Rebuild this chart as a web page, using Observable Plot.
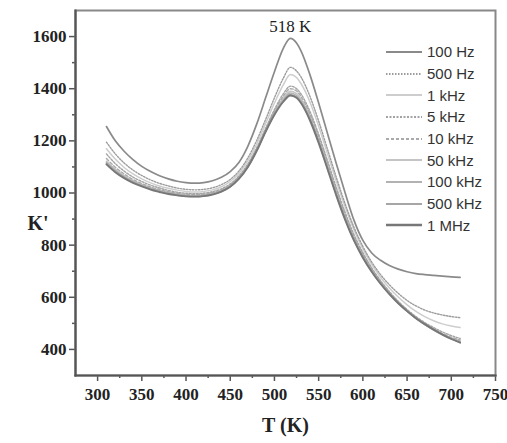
<!DOCTYPE html>
<html>
<head>
<meta charset="utf-8">
<script src="https://cdn.jsdelivr.net/npm/d3@7"></script>
<script src="https://cdn.jsdelivr.net/npm/@observablehq/plot@0.6"></script>
<style>
  html, body { margin: 0; padding: 0; background: #fff; }
  #wrap { position: relative; width: 507px; height: 443px; overflow: hidden; }
  #legend { position: absolute; left: 386px; top: 41px; font-family: "Liberation Sans", Arial, sans-serif; font-size: 15px; color: #333; }
  #legend .row { display: flex; align-items: center; height: 21.7px; }
  #legend svg { margin-right: 5px; }
</style>
</head>
<body>
<div id="wrap"></div>
<script>
// Temperatures (K)
const T = [310, 320, 330, 340, 350, 360, 370, 380, 390, 400, 410, 420, 430, 440, 450, 460, 470, 480, 490, 500, 510, 518, 525, 530, 540, 550, 560, 570, 580, 590, 600, 610, 620, 630, 640, 650, 660, 670, 680, 690, 700, 710];

// K' values per frequency
const k100Hz  = [1255, 1200, 1160, 1128, 1102, 1082, 1066, 1054, 1045, 1040, 1038, 1040, 1047, 1060, 1082, 1118, 1180, 1265, 1365, 1465, 1555, 1593, 1575, 1545, 1455, 1345, 1228, 1112, 1000, 895, 818, 770, 742, 722, 708, 698, 691, 687, 684, 681, 678, 676];
const k500Hz  = [1195, 1150, 1115, 1088, 1067, 1050, 1037, 1027, 1019, 1014, 1012, 1014, 1020, 1032, 1052, 1085, 1135, 1202, 1282, 1365, 1440, 1482, 1468, 1445, 1372, 1276, 1168, 1060, 958, 868, 795, 735, 687, 648, 615, 588, 567, 551, 540, 532, 526, 522];
const k1kHz   = [1170, 1130, 1098, 1073, 1054, 1039, 1027, 1018, 1011, 1006, 1004, 1006, 1012, 1024, 1044, 1076, 1124, 1188, 1266, 1345, 1415, 1455, 1443, 1420, 1350, 1256, 1150, 1045, 946, 858, 786, 726, 677, 636, 601, 571, 546, 526, 510, 498, 490, 484];
const k5kHz   = [1150, 1113, 1084, 1061, 1044, 1030, 1019, 1010, 1003, 999, 997, 999, 1005, 1016, 1035, 1066, 1112, 1174, 1248, 1320, 1380, 1410, 1400, 1380, 1314, 1225, 1124, 1021, 925, 840, 771, 713, 664, 622, 585, 553, 526, 503, 484, 467, 453, 442];
const k10kHz  = [1132, 1099, 1073, 1052, 1036, 1023, 1013, 1005, 999, 995, 993, 995, 1001, 1012, 1031, 1062, 1107, 1169, 1243, 1313, 1371, 1400, 1391, 1370, 1304, 1215, 1114, 1011, 916, 832, 765, 708, 660, 618, 581, 549, 521, 498, 478, 461, 447, 436];
const k50kHz  = [1122, 1092, 1067, 1047, 1032, 1020, 1010, 1002, 996, 992, 990, 992, 998, 1009, 1028, 1059, 1104, 1166, 1240, 1308, 1363, 1390, 1381, 1360, 1295, 1206, 1105, 1002, 908, 826, 760, 704, 657, 616, 580, 548, 520, 496, 476, 458, 444, 432];
const k100kHz = [1118, 1087, 1063, 1044, 1029, 1017, 1008, 1000, 994, 990, 988, 990, 996, 1007, 1026, 1057, 1102, 1164, 1238, 1304, 1357, 1384, 1374, 1353, 1288, 1199, 1098, 996, 902, 821, 756, 701, 654, 614, 578, 547, 519, 495, 474, 456, 441, 429];
const k500kHz = [1114, 1083, 1060, 1041, 1027, 1015, 1006, 998, 992, 988, 987, 989, 995, 1006, 1025, 1056, 1101, 1163, 1236, 1302, 1353, 1378, 1369, 1348, 1283, 1195, 1094, 993, 899, 819, 754, 699, 653, 613, 577, 547, 520, 497, 477, 458, 442, 427];
const k1MHz   = [1110, 1080, 1057, 1039, 1025, 1013, 1004, 996, 991, 987, 986, 988, 994, 1005, 1024, 1055, 1100, 1162, 1235, 1300, 1350, 1374, 1365, 1345, 1280, 1192, 1092, 990, 897, 817, 752, 698, 652, 612, 577, 547, 520, 497, 476, 457, 440, 426];

const seriesNames = ["100 Hz", "500 Hz", "1 kHz", "5 kHz", "10 kHz", "50 kHz", "100 kHz", "500 kHz", "1 MHz"];
const seriesValues = [k100Hz, k500Hz, k1kHz, k5kHz, k10kHz, k50kHz, k100kHz, k500kHz, k1MHz];

// Axis ticks
const xTicks = [300, 350, 400, 450, 500, 550, 600, 650, 700, 750];
const xMinor = [325, 375, 425, 475, 525, 575, 625, 675, 725];
const yTicks = [400, 600, 800, 1000, 1200, 1400, 1600];
const yMinor = [500, 700, 900, 1100, 1300, 1500];

// Annotation
const peakT = 518;
const peakLabel = "518 K";

// Styles (kept separate from data)
const styles = {
  "100 Hz":  {stroke: "#8a8a8a", strokeWidth: 1.7, dash: null},
  "500 Hz":  {stroke: "#9c9c9c", strokeWidth: 1.4, dash: "1.5,1.5"},
  "1 kHz":   {stroke: "#cdcdcd", strokeWidth: 1.5, dash: null},
  "5 kHz":   {stroke: "#a3a3a3", strokeWidth: 1.4, dash: "2,1.5"},
  "10 kHz":  {stroke: "#aaaaaa", strokeWidth: 1.4, dash: "3,2"},
  "50 kHz":  {stroke: "#c4c4c4", strokeWidth: 1.5, dash: null},
  "100 kHz": {stroke: "#b2b2b2", strokeWidth: 1.5, dash: null},
  "500 kHz": {stroke: "#a6a6a6", strokeWidth: 1.6, dash: null},
  "1 MHz":   {stroke: "#777777", strokeWidth: 1.9, dash: null}
};

const rows = seriesNames.flatMap((name, i) => T.map((t, j) => ({series: name, T: t, K: seriesValues[i][j]})));
const peakRow = [{T: peakT, K: d3.max(k100Hz), label: peakLabel}];

const drawOrder = ["1 kHz", "50 kHz", "100 kHz", "10 kHz", "5 kHz", "500 kHz", "500 Hz", "100 Hz", "1 MHz"];

const lineMarks = drawOrder.map(name => {
  const s = styles[name];
  return Plot.line(rows.filter(r => r.series === name), {
    x: "T", y: "K", curve: "monotone-x",
    stroke: s.stroke, strokeWidth: s.strokeWidth,
    strokeDasharray: s.dash || undefined
  });
});

const chart = Plot.plot({
  width: 507,
  height: 443,
  marginLeft: 75,
  marginTop: 10,
  marginRight: 12,
  marginBottom: 68,
  x: {domain: [275, 750]},
  y: {domain: [300, 1700]},
  style: {fontFamily: "'Liberation Serif', 'Times New Roman', serif", background: "#fff", color: "#222"},
  marks: [
    ...lineMarks,
    Plot.axisX(xTicks, {tickSize: 6, tickPadding: 6, fontSize: 17, fontWeight: "bold", tickFormat: d => String(d), label: null, strokeWidth: 1.5, stroke: "#555"}),
    Plot.axisX(xMinor, {tickSize: 3, text: null, label: null, strokeWidth: 1.5, stroke: "#555"}),
    Plot.axisY(yTicks, {tickSize: 6, tickPadding: 3, fontSize: 17, fontWeight: "bold", tickFormat: d => String(d), label: null, strokeWidth: 1.5, stroke: "#555"}),
    Plot.axisY(yMinor, {tickSize: 3, text: null, label: null, strokeWidth: 1.5, stroke: "#555"}),
    Plot.frame({stroke: "#888", strokeWidth: 2}),
    Plot.frame({anchor: "left", stroke: "#555", strokeWidth: 2.2}),
    Plot.frame({anchor: "bottom", stroke: "#555", strokeWidth: 2.2}),
    Plot.text(peakRow, {x: "T", y: "K", text: "label", lineAnchor: "bottom", dy: -6, fontSize: 17, fill: "#222"}),
    Plot.text(["K'"], {frameAnchor: "left", dx: -48, dy: 31, fontSize: 20, fontWeight: "bold", fill: "#222"}),
    Plot.text(["T (K)"], {frameAnchor: "bottom", dy: 56, fontSize: 20, fontWeight: "bold", fill: "#222"})
  ]
});

const wrap = document.getElementById("wrap");
wrap.appendChild(chart);

// Legend overlay
const legend = document.createElement("div");
legend.id = "legend";
seriesNames.forEach(name => {
  const s = styles[name];
  const row = document.createElement("div");
  row.className = "row";
  const svg = d3.create("svg").attr("width", 36).attr("height", 6);
  svg.append("line").attr("x1", 0).attr("x2", 36).attr("y1", 3).attr("y2", 3)
    .attr("stroke", s.stroke).attr("stroke-width", s.strokeWidth + 0.4)
    .attr("stroke-dasharray", s.dash || null);
  row.appendChild(svg.node());
  const span = document.createElement("span");
  span.textContent = name;
  row.appendChild(span);
  legend.appendChild(row);
});
wrap.appendChild(legend);
</script>
</body>
</html>
